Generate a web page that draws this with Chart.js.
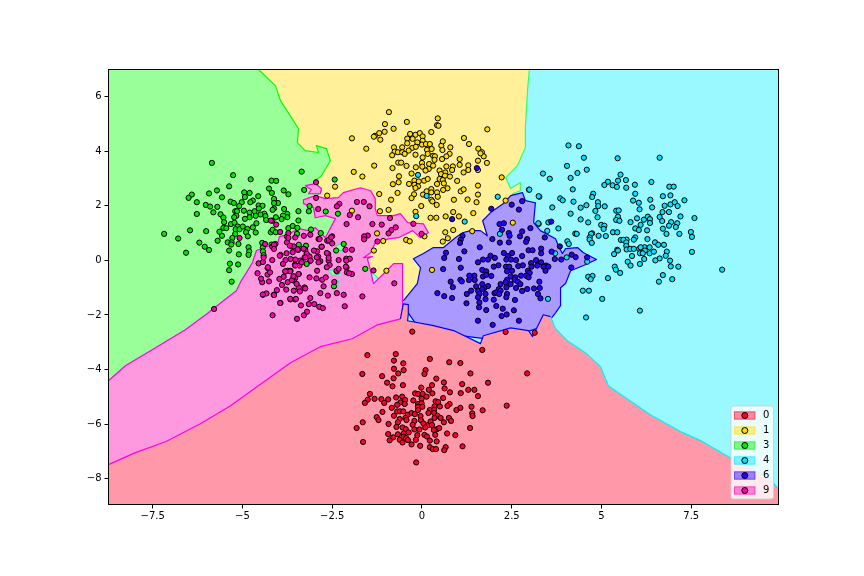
<!DOCTYPE html>
<html><head><meta charset="utf-8">
<style>html,body{margin:0;padding:0;background:#fff}canvas{display:block}</style>
<script src="https://cdn.jsdelivr.net/npm/chart.js@4/dist/chart.umd.min.js"></script>
</head><body><canvas id="c" width="864" height="576"></canvas>
<script>
const xTicks=[-7.5,-5,-2.5,0,2.5,5,7.5];
const yTicks=[-8,-6,-4,-2,0,2,4,6];
const xRange=[-8.73,9.93];
const yRange=[-8.94,6.99];
const classNames=['0','1','3','4','6','9'];
const pointColors=['#ff0029','#ffdc00','#00e800','#00e5ff','#2a00ff','#ff00b0'];
const regionFills=['#ff99a9','#fff099','#99ff99','#99f9ff','#aa99ff','#ff99df'];

const class0=[[-1.52,-3.47],[-0.73,-3.43],[0.22,-3.61],[1.68,-3.28],[-0.78,-3.67],[-0.52,-3.77],[0.76,-3.73],[1.07,-3.76],[-0.78,-3.97],[-0.51,-4.02],[0.1,-4.02],[0.07,-4.16],[-0.66,-4.14],[-1.66,-4.16],[-1.11,-4.24],[-0.79,-4.32],[1.35,-4.14],[2.93,-4.14],[0.4,-4.33],[-0.97,-4.48],[-0.82,-4.61],[-0.53,-4.57],[-0.02,-4.66],[0.28,-4.57],[0.61,-4.47],[1.12,-4.53],[1.84,-4.48],[0.19,-4.74],[0.63,-4.69],[0.78,-4.83],[1.08,-4.86],[1.29,-4.74],[1.46,-4.74],[1.56,-4.97],[0.29,-4.87],[-0.19,-4.87],[-0.11,-4.89],[0.02,-4.89],[0.13,-4.99],[-1.45,-4.89],[-1.51,-5.1],[-1.59,-5.22],[-1.32,-5.07],[-1.13,-5.08],[-1.05,-5.22],[-0.94,-5.09],[-0.72,-5.02],[-0.55,-4.99],[-0.47,-5.11],[-0.6,-5.2],[-0.69,-5.29],[-0.48,-5.26],[-0.84,-5.4],[-0.24,-5.13],[-0.01,-5.07],[0.59,-5.04],[-0.11,-5.26],[-0.01,-5.24],[-0.11,-5.36],[0.01,-5.36],[0.38,-5.16],[0.45,-5.19],[0.35,-5.35],[0.5,-5.35],[0.77,-5.26],[0.71,-5.33],[2.36,-5.32],[1.38,-5.36],[1.07,-5.4],[0.96,-5.48],[1.69,-5.49],[0.22,-5.48],[0.34,-5.47],[0.18,-5.59],[0.34,-5.59],[-1.1,-5.55],[-0.69,-5.53],[-0.61,-5.53],[-0.52,-5.53],[-0.78,-5.69],[-0.39,-5.65],[-0.29,-5.59],[-0.2,-5.63],[-0.11,-5.48],[-0.04,-5.7],[0.43,-5.69],[1.4,-5.6],[1.41,-5.7],[-1.26,-5.74],[-1.21,-5.85],[-0.62,-5.81],[-0.46,-5.77],[-0.43,-5.85],[-0.67,-5.93],[-0.21,-5.88],[-0.03,-5.85],[0.35,-5.77],[0.52,-5.77],[0.75,-5.77],[0.81,-5.88],[0.61,-5.93],[-1.65,-5.93],[-0.93,-5.99],[-0.26,-6.02],[0.04,-5.97],[0.17,-6.03],[0.24,-5.9],[0.28,-6.03],[-1.82,-6.14],[-0.71,-6.1],[-0.54,-6.12],[-0.45,-6.18],[-0.21,-6.19],[-0.07,-6.19],[0.09,-6.12],[0.42,-6.18],[0.48,-6.14],[0.33,-6.21],[1.34,-6.14],[-0.94,-6.36],[-0.67,-6.37],[-0.51,-6.34],[-0.37,-6.3],[-0.13,-6.4],[0.07,-6.39],[0.37,-6.39],[0.7,-6.34],[0.93,-6.4],[-0.8,-6.48],[-0.9,-6.59],[-0.62,-6.57],[-0.51,-6.46],[-0.44,-6.51],[-0.39,-6.58],[-0.54,-6.67],[-0.17,-6.57],[0.14,-6.45],[0.22,-6.6],[0.41,-6.63],[-1.64,-6.65],[-0.29,-6.74],[-0.05,-6.79],[0.22,-6.84],[0.3,-6.91],[0.39,-6.91],[0.66,-6.84],[0.62,-6.95],[1.13,-6.81],[-0.16,-7.4],[-0.27,-2.61],[2.33,-2.62],[3.14,-2.65]];

const class1=[[-0.92,5.43],[0.44,5.2],[-0.42,5.07],[-1.03,4.99],[-0.79,4.82],[0.42,4.95],[0.46,4.93],[1.82,4.8],[0.26,4.7],[-1.19,4.66],[-1.04,4.71],[-1.31,4.56],[-1.34,4.53],[-1.16,4.42],[-1.95,4.47],[-0.33,4.63],[-0.18,4.6],[-0.06,4.66],[0.02,4.54],[-0.41,4.46],[-0.26,4.45],[-0.13,4.32],[0.02,4.38],[-0.41,4.29],[0,4.24],[0.11,4.26],[0.22,4.26],[-0.78,4.14],[-0.55,4.14],[-0.27,4.12],[-0.17,4.16],[-1.55,4.09],[-0.76,3.98],[-0.67,3.96],[-0.55,3.96],[-0.37,4.02],[-0.48,3.9],[-0.83,3.85],[-0.18,3.87],[0.14,4.05],[0.27,4.08],[0.16,3.9],[0.31,3.83],[0.36,3.81],[0.54,4.2],[0.58,4.36],[0.79,4.14],[0.57,4.04],[0.77,3.9],[0.68,3.81],[0.56,3.71],[0.35,3.68],[0.02,3.77],[1.17,4.48],[1.31,4.26],[1.57,4.09],[1.67,3.96],[1.72,3.81],[1.63,3.92],[1.56,3.65],[1.81,3.57],[1.05,3.71],[1.05,3.5],[1.29,3.48],[1.29,3.31],[1.16,3.22],[0.86,3.44],[0.84,3.31],[0.68,3.44],[1.56,3.31],[-0.66,3.58],[-0.58,3.58],[-1.33,3.47],[-0.82,3.38],[-0.43,3.46],[-0.17,3.41],[0,3.57],[0.01,3.43],[0.2,3.53],[0.31,3.47],[0.19,3.35],[0.1,3.29],[-1.9,3.24],[-1.66,3.07],[-0.29,3.18],[-0.64,3.08],[-0.65,2.86],[-0.81,2.79],[-0.36,2.8],[-0.21,2.92],[-0.09,2.89],[-0.21,2.77],[-0.11,2.71],[-0.18,2.65],[0.06,2.92],[0.16,2.98],[0.49,3.29],[0.65,3.22],[0.53,3.16],[0.64,3.1],[0.78,3.07],[0.49,2.98],[0.58,2.94],[0.61,2.82],[0.98,2.91],[0.42,2.8],[0.71,2.64],[0.59,2.58],[0.42,2.49],[0.26,2.61],[0.13,2.53],[0.26,2.49],[0.03,2.41],[0.44,2.33],[0.26,2.22],[0.29,2.16],[-0.68,2.47],[-0.22,2.42],[-0.29,2.28],[-0.86,2.22],[-0.02,1.99],[0.41,2.03],[0.89,2.22],[1.27,2.23],[1.08,2.53],[1.16,2.6],[1.56,2.74],[1.56,2.41],[1.52,2.13],[2.22,3.04],[2.33,2.19],[1.43,1.73],[1.03,1.61],[0.87,1.77],[0.66,1.61],[0.4,1.56],[0.24,1.56],[-0.18,1.78],[-0.93,1.85],[-1.17,1.8],[-1.19,2.43],[-1.95,1.82],[1.4,1.07],[0.87,1.11],[0.65,1.03],[0.72,0.81],[0.58,0.69],[-0.44,0.75],[-0.34,0.7],[-1.25,0.99],[-1.08,0.71],[0.07,0.88],[2.53,1.38],[-1.34,0.36],[-0.99,-0.38],[0.28,-0.35],[-2.42,2.7],[-2.64,2.37]];

const class3=[[-5.85,3.57],[-5.26,3.12],[-4.77,2.97],[-4.19,2.92],[-4.06,2.91],[-3.35,3.25],[-2.43,2.96],[-5.37,2.71],[-4.26,2.63],[-5.71,2.56],[-5.93,2.45],[-6.41,2.41],[-6.5,2.29],[-6.27,2.13],[-5.57,2.31],[-4.95,2.49],[-4.8,2.47],[-4.93,2.32],[-4.56,2.35],[-4.71,2.19],[-4.18,2.47],[-4.12,2.25],[-3.85,2.56],[-3.72,2.42],[-3.28,2.58],[-5.33,2.15],[-5.24,2.1],[-5.02,2.13],[-5.09,1.99],[-4.78,2.13],[-6.02,2.03],[-5.9,1.97],[-5.7,1.96],[-5.81,1.76],[-6.27,1.7],[-5.61,1.69],[-5.53,1.57],[-5.51,1.4],[-5.2,1.8],[-5.15,1.8],[-4.96,1.82],[-5.17,1.63],[-5.23,1.58],[-4.8,1.75],[-4.66,1.8],[-4.55,2.01],[-4.44,2],[-4.54,1.9],[-4.39,1.71],[-4.5,1.68],[-4.63,1.63],[-4.8,1.58],[-4.93,1.52],[-4.36,1.62],[-4.34,1.48],[-4.12,1.9],[-4.16,1.85],[-4.01,2.1],[-4.12,2.1],[-3.84,1.88],[-4.07,1.58],[-3.75,1.7],[-3.75,1.58],[-3.87,1.64],[-3.91,1.51],[-3.44,1.8],[-3.44,1.46],[-3.13,1.99],[-3.15,1.8],[-2.68,1.79],[-2.34,1.71],[-6.46,1.1],[-6.01,1.07],[-7.18,0.97],[-6.79,0.8],[-6.2,0.65],[-6.05,0.5],[-5.93,0.38],[-6.57,0.28],[-5.69,0.72],[-5.57,0.9],[-5.64,1.05],[-5.53,1.19],[-5.45,1.18],[-5.32,1.33],[-5.22,1.38],[-5.13,1.24],[-5.19,1.14],[-5.08,1.14],[-4.99,1.24],[-4.86,1.15],[-4.71,1.21],[-4.61,1.36],[-4.9,1.03],[-4.63,1.02],[-4.85,0.88],[-5.2,0.97],[-5.28,0.82],[-5.41,0.66],[-5.3,0.66],[-5.31,0.58],[-5.11,0.6],[-5.37,0.36],[-4.83,0.48],[-4.81,0.33],[-4.83,0.2],[-5.1,0.22],[-5.35,-0.12],[-5.12,-0.15],[-5.37,-0.36],[-5.3,-0.78],[-4.45,0.64],[-4.43,0.48],[-4.43,0.33],[-4.41,0.19],[-4.19,0.58],[-4.21,1.03],[-4.16,1.12],[-4.07,1.03],[-3.72,1.18],[-3.6,1.26],[-3.47,1.19],[-3.48,0.97],[-3.09,1.13],[-2.82,1],[-3.23,0.54],[-3.43,0.57],[-3.61,0.5],[-2.39,0.36],[-2.18,0.6],[-3.21,-0.13],[-2.37,-0.4],[-2.45,-0.95],[-1.58,-0.31]];

const class4=[[4.08,4.21],[4.37,4.18],[4.51,3.76],[5.45,3.74],[6.62,3.76],[4.04,3.46],[4.59,3.32],[4.33,3.2],[3.37,3.18],[3.56,2.99],[4.14,3.02],[5.53,3.14],[5.46,2.92],[5.68,2.94],[5.18,2.88],[5.08,2.76],[5.31,2.75],[5.43,2.69],[5.69,2.66],[5.93,2.77],[6.39,2.87],[6.89,2.7],[7.01,2.7],[2.98,2.59],[4.2,2.6],[5.94,2.44],[4.77,2.44],[4.74,2.32],[3.27,2.33],[3.85,2.27],[3.92,2.2],[4.22,2.15],[5.88,2.19],[6.04,2.11],[6.36,2.22],[6.71,2.35],[6.92,2.38],[7.31,2.2],[4.9,2.13],[4.91,1.99],[5.09,1.98],[4.58,2.02],[4.42,1.93],[3.63,1.94],[6.92,2.05],[7.04,2.13],[7.12,1.99],[6.76,2],[6.41,1.94],[6.06,1.87],[5.41,1.82],[5.48,1.83],[4.83,1.81],[4.14,1.71],[6.7,1.77],[6.88,1.77],[4.89,1.58],[5.46,1.6],[5.41,1.48],[5.5,1.45],[5.99,1.54],[6.29,1.6],[6.18,1.49],[6.35,1.51],[6.35,1.37],[6.62,1.59],[6.69,1.44],[7.2,1.61],[7.59,1.55],[4.42,1.5],[4.63,1.39],[5.81,1.4],[3.52,1.39],[3.25,1.33],[4.99,1.3],[5.08,1.27],[5.06,1.15],[6.09,1.3],[5.94,1.17],[6.04,1.11],[6.27,1.1],[6.71,1.16],[6.94,1.4],[7.11,1.36],[7.07,1.22],[6.88,1.27],[3.8,1.17],[3.49,1.08],[4.27,0.98],[4.31,0.97],[4.74,0.99],[4.71,0.97],[5.32,1.03],[5.44,1.03],[4.92,0.9],[5.12,0.89],[4.67,0.84],[4.67,0.76],[4.73,0.64],[6.81,0.97],[7.17,0.97],[7.49,1.04],[7.52,0.86],[5.94,0.84],[5.9,0.76],[6.28,0.78],[5.54,0.75],[5.7,0.76],[5.61,0.75],[5.69,0.66],[6.49,0.66],[6.58,0.57],[6.74,0.57],[4.05,0.7],[4.09,0.6],[5.69,0.53],[5.7,0.4],[5.8,0.42],[5.9,0.42],[6.05,0.42],[6.2,0.48],[6.34,0.48],[6.09,0.48],[6.21,0.36],[6.07,0.26],[6.15,0.26],[6.34,0.26],[6.46,0.32],[6.82,0.32],[6.79,0.17],[7.52,0.31],[5.44,0.39],[5.46,0.36],[5.35,0.23],[5.85,0.16],[6.19,0.05],[6.62,0.07],[6.5,0],[6.91,-0.01],[5.73,-0.05],[5.81,-0.19],[6.07,-0.13],[6.93,-0.22],[7.14,-0.23],[8.36,-0.34],[5.37,-0.23],[5.4,-0.34],[5.52,-0.46],[6.71,-0.54],[6.97,-0.69],[6.6,-0.78],[4.63,-0.6],[4.75,-0.57],[4.7,-0.69],[5.18,-0.65],[4.48,-1.11],[4.65,-1.11],[5.02,-1.41],[3.51,-1.41],[4.57,-2.09],[6.07,-1.84],[3.71,0.26],[4.03,0.11],[4.6,-0.05],[-0.11,3.13],[0.13,2.36],[-0.16,1.62],[1.19,1.42],[2.11,2.33],[2.99,2.59],[3.25,2.35],[3.24,1.36],[2.17,0.97]];

const class6=[[1.93,1.89],[2.5,2.04],[2.79,2.17],[2.7,1.86],[0.84,1.51],[2.16,1.33],[2.28,1.36],[3.02,1.18],[3.6,1.42],[1.13,0.9],[1.08,0.76],[1.06,0.64],[1.96,0.78],[2.17,0.65],[2.23,1.12],[2.42,1],[2.44,0.9],[2.42,0.66],[2.73,0.88],[2.79,1.06],[2.93,0.78],[2.9,0.68],[3.42,0.84],[1.61,0.48],[1.18,0.33],[0.67,0.28],[0.62,0.09],[3.32,0.43],[3.32,0.26],[2.97,0.37],[3.08,0.37],[3.61,0.32],[3.84,0.51],[3.88,0.03],[3.7,0.05],[4.17,0.21],[4.28,0.12],[4.6,0.11],[4.16,-0.26],[2.28,0.27],[2.51,0.27],[2.39,0.16],[1.91,0.17],[2.03,0.09],[1.84,0.03],[1.7,0.03],[1.56,-0.07],[1.03,0.05],[2.35,0.03],[2.48,0.03],[2.62,0.01],[2.79,0.16],[3.04,-0.1],[3.18,0.01],[3.32,-0.07],[2.68,-0.21],[2.81,-0.18],[2.13,-0.18],[2.34,-0.23],[2.43,-0.23],[2,-0.23],[3.46,-0.19],[3.38,-0.23],[3.52,-0.23],[3.21,-0.19],[3.05,-0.23],[1.08,-0.27],[0.59,-0.32],[1.68,-0.35],[1.79,-0.4],[2.37,-0.4],[2.51,-0.38],[2.95,-0.38],[3.44,-0.38],[3,-0.46],[1.7,-0.59],[1.93,-0.57],[1.79,-0.53],[2.47,-0.59],[2.6,-0.62],[2.76,-0.56],[2.9,-0.56],[2.97,-0.62],[3.27,-0.78],[2.37,-0.71],[2.58,-0.71],[2.67,-0.78],[2.74,-0.87],[2.33,-0.8],[1.46,-0.56],[1.32,-0.56],[1.31,-0.72],[1.07,-0.71],[1.11,-0.77],[0.8,-0.78],[0.86,-0.98],[1.47,-0.72],[1.68,-0.87],[1.84,-0.94],[1.74,-1.01],[2.19,-0.87],[2.35,-0.99],[2.47,-0.87],[2.62,-1.01],[2.79,-1.12],[2.93,-1.05],[3.12,-1.03],[3.28,-1.01],[3.23,-1.23],[3.3,-1.39],[1.51,-0.95],[1.37,-1.11],[1.56,-1.11],[1.68,-1.05],[1.6,-1.23],[1.25,-1.23],[0.43,-1.2],[0.62,-1.31],[0.84,-1.38],[1.56,-1.35],[1.77,-1.23],[2.02,-1.2],[2.14,-1.05],[2.07,-1.17],[2.19,-1.11],[2.37,-1.23],[2.35,-1.35],[2.15,-1.23],[1.77,-1.42],[2,-1.44],[1.24,-1.57],[1.6,-1.54],[1.59,-1.72],[2.59,-1.45],[2.07,-1.67],[1.79,-1.82],[2.25,-1.77],[2.56,-1.83],[2.36,-1.98],[2.22,-2.04],[1.56,-2.21],[1.97,-2.36],[2.7,-2.21],[1.53,3.38]];

const class9=[[-2.95,2.86],[-2.95,2.29],[-2.89,1.88],[-2.3,2.07],[-2.37,1.98],[-1.81,2.14],[-1.62,2.14],[-1.46,1.98],[-2.01,1.66],[-1.78,1.58],[-2.1,1.33],[-1.38,1.33],[-1.12,1.31],[-0.89,1.55],[-0.24,1.34],[-0.73,1.21],[-0.85,1.11],[-0.93,0.99],[-0.01,0.97],[-1.51,0.91],[-1.61,0.88],[-1.61,0.77],[-1.24,0.69],[-2.13,0.39],[-1.95,0.39],[-2.11,0.06],[-2.01,0.06],[-2.11,-0.01],[-2.32,0.01],[-2.1,-0.26],[-2.38,-0.38],[-2.09,-0.44],[-1.95,-0.5],[-2.03,-0.47],[-1.35,-0.37],[-0.77,-0.84],[-2.37,-1.2],[-2.18,-1.26],[-1.66,-1.32],[-2.62,-1.29],[-2.83,-1.2],[-2.44,-0.79],[-2.78,-0.71],[-2.68,-0.62],[-2.94,-0.66],[-3.13,-0.62],[-2.92,-0.38],[-2.74,-0.95],[-2.61,0.23],[-2.6,-0.01],[-2.57,-0.17],[-2.83,-0.03],[-2.89,0.14],[-2.92,0.33],[-3.01,0.36],[-3.13,0.14],[-3.11,-0.01],[-3.27,0.11],[-3.39,-0.01],[-3.53,0.03],[-3.66,0.05],[-3.54,-0.16],[-3.41,-0.19],[-3.43,-0.5],[-3.53,-0.65],[-3.66,-0.38],[-3.74,-0.38],[-3.8,-0.41],[-3.85,-0.6],[-3.97,-0.68],[-3.9,-0.9],[-3.74,-0.8],[-3.57,-0.74],[-3.43,-0.99],[-3.27,-0.99],[-3.57,-1.11],[-3.78,-1.07],[-3.4,-1.14],[-4.04,-1.09],[-4.13,-1.26],[-4.43,-1.26],[-4.33,-1.21],[-3.11,-1.38],[-3.53,-1.43],[-3.66,-1.43],[-3.94,-1.56],[-3.15,-1.6],[-3.37,-1.65],[-3,-1.6],[-2.86,-1.7],[-2.76,-1.75],[-3.2,-1.88],[-3.29,-2.01],[-3.48,-2.14],[-4.16,-2.01],[-2.15,-1.68],[-4.17,0.01],[-4.3,-0.28],[-3.94,0.2],[-3.8,0.01],[-3.76,0.66],[-4.17,0.5],[-4.08,0.6],[-2.5,0.88],[-2.64,0.72],[-2.55,0.7],[-2.8,0.5],[-2.5,0.62],[-3.29,0.9],[-2.88,0.78],[-3.11,0.94],[-3.25,0.38],[-3.45,0.38],[-3.57,0.51],[-3.68,0.54],[-3.53,0.84],[-3.76,0.87],[-4.17,1.45],[-4.45,-0.8],[-4.3,-0.52],[-5.08,0.82],[-5.79,-1.78],[-4.58,-0.47],[-4.48,-0.67],[-4.26,-0.77],[-4.23,-0.44],[-4.29,-0.25],[-4.55,-0.11],[-4.43,-0.06],[-4.41,0.11],[-4.37,0.6],[-4.12,0.58],[-4.12,0.42],[-4.21,1.46],[-4.06,1.31],[-3.95,1.04],[-3.72,1],[-3.72,0.82],[-3.96,0.17],[-3.87,-0.13],[-3.77,0.26],[-3.6,0.3],[-3.46,0.41],[-3.3,0.43],[-3.21,0.24],[-3.1,-0.01],[-2.93,0.11],[-2.88,-0.07],[-2.65,0.27],[-2.6,0.09],[-2.79,0.5],[-2.6,0.75],[-2.53,0.85],[-2.85,0.78],[-4.43,-1.25],[-4.12,-1.27],[-3.95,-1.56],[-3.67,-1.41],[-3.51,-1.41],[-3.25,-1.03],[-3.49,-0.86],[-3.62,-0.72],[-3.44,-0.5],[-3.58,-0.58],[-3.67,-0.4],[-3.81,-0.4],[-3.53,-0.19],[-3.35,-0.07],[-3.25,0.11],[-2.65,-0.25],[-2.32,-0.31],[-2.12,-0.23]];

const regionCyan=[[-8.73,6.99],[9.93,6.99],[9.93,-8.94],[-8.73,-8.94]];
const regionYellow=[[-4.55,6.99],[2.99,6.99],[2.94,6.22],[2.88,4.86],[2.88,4.13],[2.66,3.47],[2.33,3.03],[2.47,2.63],[2.74,2.85],[2.74,2.55],[2.52,2.44],[3.02,1.82],[2.19,-1.48],[-0.46,-1.66],[-3.38,2.19],[-3.66,4.02]];
const regionGreen=[[-8.73,6.99],[-4.55,6.99],[-4.08,6.39],[-3.94,5.85],[-3.58,5.12],[-3.44,4.82],[-3.47,4.31],[-3.25,4.02],[-2.88,3.95],[-2.94,4.2],[-2.66,4.09],[-2.55,3.65],[-2.8,3.1],[-2.97,2.92],[-2.8,2.55],[-2.94,2.33],[-2.27,1.45],[-2.27,0.35],[-3.38,-1.48],[-8.73,-5.14]];
const regionMagenta=[[-8.73,-4.41],[-8.26,-3.86],[-7.56,-3.31],[-6.59,-2.54],[-5.95,-1.92],[-5.53,-1.48],[-5.17,-1.11],[-5.03,-0.74],[-4.89,-0.45],[-4.72,-0.08],[-4.61,0.36],[-4.33,0.5],[-4.02,0.61],[-3.97,0.87],[-3.75,0.94],[-3.44,1.16],[-3.16,1.09],[-2.97,1.2],[-2.69,0.83],[-2.41,1.53],[-2.69,1.64],[-2.97,1.56],[-3.02,1.93],[-3.3,2.08],[-3.3,2.22],[-2.97,2.37],[-2.69,2.26],[-2.33,2.3],[-2.19,2.48],[-1.71,2.66],[-1.43,2.55],[-1.3,2.26],[-1.3,1.89],[-1.24,1.64],[-0.79,1.64],[-0.6,1.71],[-0.4,1.38],[0.04,1.34],[0.18,1.01],[-0.04,0.83],[-0.26,1.09],[-0.65,0.83],[-0.93,0.79],[-1.3,0.65],[-1.43,0.28],[-1.63,0.1],[-1.38,0.14],[-1.52,0.06],[-1.43,-0.38],[-1.35,-0.85],[-1.07,-0.49],[-0.79,-0.12],[-0.54,-0.12],[-0.54,-1.4],[-0.52,-2.94],[-8.73,-8.07]];
const regionMagentaIsland=[[-3.25,2.74],[-2.97,2.81],[-2.8,2.63],[-2.83,2.44],[-3.16,2.44],[-3.08,2.59],[-3.25,2.74]];
const regionGreenPocketA=[[-2.6,-0.38],[-2.33,-0.3],[-2.27,-0.49],[-2.49,-0.56],[-2.6,-0.38]];
const regionGreenPocketB=[[-2.49,-0.85],[-2.33,-0.74],[-2.35,-1],[-2.49,-0.85]];
const regionGreenPocketC=[[-2.41,0.54],[-2.19,0.61],[-2.16,0.36],[-2.33,0.36],[-2.41,0.54]];
const regionBlue=[[-0.52,-1.48],[-0.13,-0.85],[-0.04,-0.27],[-0.24,0.06],[0.04,0.25],[0.32,0.47],[0.6,0.47],[0.93,0.83],[1.13,1.01],[1.35,1.09],[1.63,1.09],[1.82,0.9],[1.69,1.45],[1.91,1.75],[2.27,2.08],[2.47,2.37],[2.8,2.48],[2.88,2.19],[3.16,2.11],[3.11,1.38],[3.3,1.09],[3.72,0.79],[3.8,0.54],[3.91,0.25],[4,0.43],[4.33,0.47],[4.5,0.28],[4.86,0.03],[4.5,-0.19],[4.14,-0.38],[4,-0.85],[3.86,-1],[3.86,-1.66],[3.72,-1.92],[3.44,-2.39],[2.19,-2.94],[-0.04,-2.57],[-0.52,-1.66]];
const regionRed=[[-8.73,-7.48],[-7.98,-7.04],[-7.14,-6.64],[-6.17,-5.98],[-5.33,-5.32],[-4.44,-4.48],[-3.66,-3.75],[-2.83,-3.16],[-1.94,-2.87],[-1.24,-2.36],[-0.6,-2.14],[-0.52,-1.59],[-0.38,-1.62],[-0.38,-1.95],[-0.4,-2.21],[0.32,-2.39],[0.88,-2.57],[1.63,-3.05],[1.71,-2.76],[2.47,-2.47],[2.97,-2.57],[3.08,-2.79],[3.38,-1.99],[3.58,-2.06],[3.72,-2.5],[4.05,-2.94],[4.55,-3.38],[4.97,-3.89],[5.19,-4.59],[5.67,-5.03],[6.36,-5.65],[7.2,-6.27],[7.76,-6.6],[8.68,-7.3],[9.62,-7.92],[9.93,-8.36],[9.93,-8.94],[-8.73,-8.94]];

const classData=[class0,class1,class3,class4,class6,class9];

function region(data,fillCol,line,width,order,extra){
  return Object.assign({data,showLine:true,fill:'shape',backgroundColor:fillCol,borderColor:line,borderWidth:width,pointRadius:0,pointHoverRadius:0,tension:0,order,borderJoinStyle:'round'},extra||{});
}
const datasets=[
  region(regionCyan,regionFills[3],regionFills[3],0,30),
  region(regionYellow,regionFills[1],'#33ff66',1.2,29),
  region(regionGreen,regionFills[2],'#00ff00',1.2,28),
  region(regionMagenta,regionFills[5],'#ff00e0',1.2,27),
  region(regionMagentaIsland,regionFills[5],'#ff00e0',1.2,26),
  region(regionGreenPocketA,regionFills[2],'#00ffb0',1,25),
  region(regionGreenPocketB,regionFills[2],'#00ffb0',1,24),
  region(regionGreenPocketC,regionFills[2],'#00ffb0',1,23),
  region(regionBlue,regionFills[4],'#0000ff',1.2,22),
  region(regionRed,regionFills[0],regionFills[0],0,21),
  region(regionRed,'transparent','#ff00e0',1.2,20,{fill:false,segment:{borderColor:c=>{
    const x=c.p0.parsed.x; return x<-0.6?'#ff00e0':(x<3.45?'#0000ff':'#00f0ff');}}})
];
classData.forEach((d,i)=>datasets.push({data:d,label:classNames[i],showLine:false,backgroundColor:pointColors[i],borderColor:'#000',borderWidth:1,pointRadius:2.6,pointHoverRadius:2.6,order:10-i}));

const frameAndLegend={id:'frameAndLegend',afterDraw(chart){
  const c=chart.ctx,a=chart.chartArea;
  c.save();
  c.strokeStyle='#000';c.lineWidth=1;
  c.strokeRect(a.left,a.top,a.right-a.left,a.bottom-a.top);
  const bx=a.right-47.5,by=a.bottom-98.5,bw=42.5,bh=93;
  c.beginPath();c.roundRect(bx,by,bw,bh,2.5);
  c.fillStyle='rgba(255,255,255,0.8)';c.fill();
  c.strokeStyle='rgba(204,204,204,0.8)';c.lineWidth=1;c.stroke();
  classNames.forEach((n,i)=>{
    const cy=by+9.5+i*15;
    c.globalAlpha=0.45;c.fillStyle=pointColors[i];c.fillRect(bx+3.5,cy-3.7,20.5,7.4);
    c.globalAlpha=0.6;c.strokeStyle=pointColors[i];c.lineWidth=1;c.strokeRect(bx+3.5,cy-3.7,20.5,7.4);
    c.globalAlpha=1;
    c.beginPath();c.arc(bx+13.8,cy,3,0,Math.PI*2);c.fillStyle=pointColors[i];c.fill();c.strokeStyle='#000';c.lineWidth=1;c.stroke();
    c.fillStyle='#000';c.font='10px "DejaVu Sans"';c.textBaseline='middle';c.textAlign='left';
    c.fillText(n,bx+32,cy);
  });
  c.restore();
}};

const fmt=v=>String(v).replace('-','\u2212');
const tickFont={family:'"DejaVu Sans"',size:10};
new Chart(document.getElementById('c'),{
  type:'scatter',
  data:{datasets},
  options:{
    responsive:false,animation:false,
    layout:{padding:{left:0,top:69.5,right:85.5,bottom:0}},
    plugins:{legend:{display:false},tooltip:{enabled:false}},
    events:[],
    scales:{
      x:{type:'linear',min:xRange[0],max:xRange[1],
        afterBuildTicks:s=>{s.ticks=xTicks.map(value=>({value}));},
        afterFit:s=>{s.height=71.5;},
        ticks:{callback:fmt,color:'#000',font:tickFont,autoSkip:false,maxRotation:0,padding:2},
        grid:{drawOnChartArea:false,tickLength:4,tickColor:'#000',tickWidth:1},
        border:{color:'#000',width:1}},
      y:{type:'linear',min:yRange[0],max:yRange[1],
        afterBuildTicks:s=>{s.ticks=yTicks.map(value=>({value}));},
        afterFit:s=>{s.width=108.5;},
        ticks:{callback:fmt,color:'#000',font:tickFont,autoSkip:false,padding:3},
        grid:{drawOnChartArea:false,tickLength:4,tickColor:'#000',tickWidth:1},
        border:{color:'#000',width:1}}
    }
  },
  plugins:[frameAndLegend]
});
</script></body></html>
